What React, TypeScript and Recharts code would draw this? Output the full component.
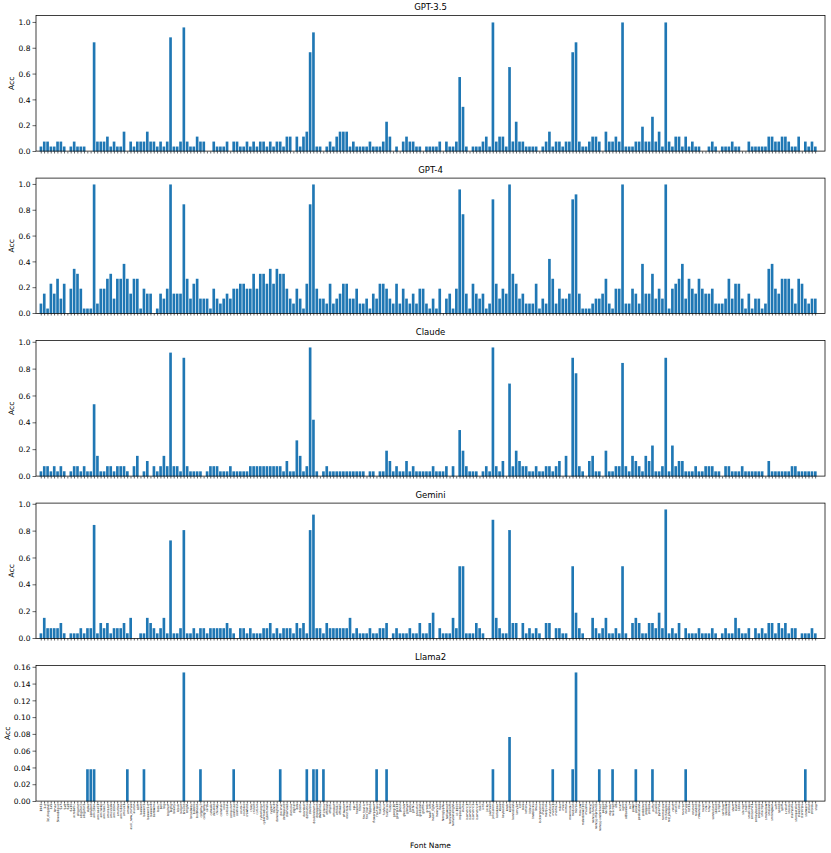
import { BarChart, Bar, XAxis, YAxis } from "recharts";

// font names along the shared x axis (only printed under the last panel)
const fontNames = [
  "1943", "3-d", "3d_diagonal", "3x5", "4max", "5lineoblique", "5x7", "5x8", "6x9", "6x10",
  "acrobatic", "alligator", "alligator2", "alligator3", "alpha", "alphabet", "amc3line", "amcaaa01", "amcneko", "amcrazo2",
  "amcrazor", "amcslash", "amcslder", "amcthin", "amctubes", "amcun1", "arrows", "ascii_new_roman", "avatar", "b1ff",
  "banner", "banner3", "banner3-d", "banner4", "barbwire", "basic", "bell", "big", "bigchief", "bigfig",
  "binary", "block", "bolger", "braced", "bright", "broadway", "bubble", "bulbhead", "calgphy2", "caligraphy",
  "cards", "catwalk", "chiseled", "chunky", "coinstak", "cola", "colossal", "computer", "contessa", "contrast",
  "cosmic", "cosmike", "crawford", "crazy", "cricket", "cursive", "cyberlarge", "cybermedium", "cybersmall", "cygnet",
  "danc4", "dancingfont", "decimal", "defleppard", "diamond", "dietcola", "digital", "doh", "doom", "dosrebel",
  "dotmatrix", "double", "doubleshorts", "drpepper", "dwhistled", "eftichess", "eftifont", "eftipiti", "eftirobot", "eftitalic",
  "eftiwall", "eftiwater", "electronic", "elite", "epic", "fender", "filter", "fire_font-k", "fire_font-s", "flipped",
  "flowerpower", "fourtops", "fraktur", "funface", "funfaces", "fuzzy", "georgi16", "georgia11", "ghost", "ghoulish",
  "glenyn", "goofy", "gothic", "graceful", "gradient", "graffiti", "greek", "heart_left", "heart_right", "henry3d",
  "hex", "hieroglyphs", "hollywood", "horizontalleft", "horizontalright", "icl-1900", "impossible", "invita", "isometric1", "isometric2",
  "isometric3", "isometric4", "italic", "ivrit", "jacky", "jazmine", "jerusalem", "katakana", "kban", "keyboard",
  "knob", "konto", "kontoslant", "larry3d", "lcd", "lean", "letters", "lildevil", "lineblocks", "linux",
  "lockergnome", "madrid", "marquee", "maxfour", "merlin1", "merlin2", "mike", "mini", "mirror", "mnemonic",
  "modular", "morse", "moscow", "mshebrew210", "muzzle", "nancyj", "nancyj-fancy", "nancyj-improved", "nancyj-underlined", "pagga",
  "nscript", "ntgreek", "nvscript", "o8", "octal", "ogre", "oldbanner", "os2", "pawp", "peaks",
  "peaksslant", "pebbles", "pepper", "poison", "puffy", "puzzle", "pyramid", "rammstein", "rectangles", "red_phoenix",
  "relief", "relief2", "rev", "reverse", "roman", "rot13", "rotated", "rounded", "rowancap", "rozzo",
  "runic", "runyc", "santaclara", "sblood", "script", "serifcap", "shadow", "shimrod", "short", "slant",
  "slide", "slscript", "small", "smallcaps", "smisome1", "smkeyboard", "smpoison", "smscript", "smshadow", "smslant",
  "smtengwar", "soft", "speed", "spliff", "s-relief", "stacey", "stampate", "stampatello", "standard", "starstrips",
  "starwars", "stellar", "stforek", "stop",
];

// letters recognised correctly per font (out of 26)
const gpt35 = [
  1, 2, 2, 1, 1, 2, 2, 1, 0, 1,
  2, 1, 1, 1, 0, 0, 22, 2, 2, 2,
  3, 1, 2, 1, 1, 4, 0, 2, 1, 2,
  2, 2, 4, 2, 2, 1, 2, 1, 2, 23,
  1, 1, 2, 25, 2, 1, 1, 3, 2, 2,
  0, 0, 2, 1, 1, 1, 2, 0, 2, 2,
  1, 1, 2, 1, 2, 1, 2, 2, 1, 2,
  1, 2, 2, 1, 3, 3, 0, 3, 1, 3,
  4, 20, 24, 1, 1, 0, 1, 2, 1, 3,
  4, 4, 4, 1, 2, 1, 1, 1, 1, 2,
  1, 1, 1, 2, 6, 3, 0, 1, 0, 2,
  3, 2, 2, 1, 1, 0, 1, 1, 1, 1,
  2, 0, 2, 1, 1, 2, 15, 9, 1, 0,
  1, 1, 1, 2, 3, 1, 26, 2, 3, 3,
  1, 17, 2, 6, 2, 2, 1, 1, 1, 1,
  0, 1, 2, 4, 1, 2, 2, 1, 2, 2,
  20, 22, 2, 1, 1, 2, 3, 3, 2, 0,
  4, 2, 2, 3, 2, 26, 1, 1, 1, 2,
  2, 5, 2, 2, 7, 2, 4, 1, 26, 2,
  1, 3, 3, 1, 3, 1, 2, 1, 1, 0,
  0, 1, 2, 1, 0, 1, 1, 1, 2, 1,
  1, 0, 0, 2, 1, 1, 1, 1, 1, 3,
  3, 2, 2, 3, 3, 2, 1, 1, 3, 0,
  2, 1, 2, 1,
];

const gpt4 = [
  2, 4, 1, 6, 4, 7, 3, 6, 0, 5,
  9, 8, 5, 1, 1, 1, 26, 2, 5, 5,
  7, 8, 3, 7, 7, 10, 7, 4, 7, 7,
  1, 5, 4, 4, 0, 1, 4, 3, 5, 26,
  4, 4, 4, 22, 7, 3, 6, 7, 3, 3,
  3, 1, 5, 3, 2, 3, 4, 3, 5, 5,
  6, 6, 5, 5, 8, 5, 8, 8, 6, 9,
  6, 9, 8, 8, 5, 3, 2, 5, 3, 1,
  6, 22, 26, 5, 3, 3, 2, 6, 2, 3,
  4, 6, 6, 3, 3, 5, 2, 2, 3, 1,
  4, 3, 6, 6, 5, 3, 2, 6, 2, 5,
  3, 2, 4, 2, 5, 5, 2, 1, 3, 1,
  5, 0, 3, 4, 1, 5, 25, 20, 4, 1,
  6, 4, 3, 4, 1, 2, 23, 6, 3, 5,
  4, 26, 8, 6, 3, 4, 2, 2, 2, 6,
  1, 3, 2, 11, 7, 2, 5, 3, 3, 4,
  23, 24, 4, 1, 1, 1, 2, 3, 3, 4,
  7, 2, 1, 5, 5, 26, 2, 2, 5, 4,
  2, 10, 4, 4, 8, 3, 5, 3, 26, 1,
  5, 6, 7, 10, 3, 7, 5, 4, 7, 5,
  4, 4, 5, 2, 2, 2, 3, 7, 3, 6,
  6, 3, 1, 4, 1, 3, 3, 1, 2, 9,
  10, 5, 4, 7, 7, 7, 5, 2, 7, 6,
  3, 2, 3, 3,
];

const claude = [
  1, 2, 2, 1, 2, 1, 2, 1, 0, 1,
  2, 2, 1, 2, 1, 1, 14, 4, 1, 1,
  2, 2, 1, 2, 2, 2, 1, 0, 2, 4,
  0, 1, 3, 0, 2, 1, 2, 4, 2, 24,
  2, 2, 1, 23, 2, 1, 1, 1, 1, 0,
  1, 2, 2, 2, 1, 1, 1, 2, 1, 1,
  1, 1, 1, 2, 2, 2, 2, 2, 2, 2,
  2, 2, 2, 1, 3, 1, 1, 7, 4, 1,
  2, 25, 11, 1, 0, 1, 2, 1, 1, 1,
  1, 1, 1, 1, 1, 1, 1, 1, 0, 1,
  1, 0, 1, 1, 5, 3, 1, 2, 1, 1,
  3, 1, 2, 1, 1, 1, 1, 1, 2, 1,
  1, 1, 2, 0, 2, 0, 9, 5, 2, 1,
  1, 1, 0, 1, 2, 1, 25, 2, 1, 3,
  0, 18, 2, 5, 3, 2, 2, 1, 1, 2,
  1, 1, 2, 2, 1, 2, 3, 0, 4, 0,
  23, 20, 2, 1, 0, 3, 4, 1, 1, 0,
  5, 1, 1, 2, 2, 22, 2, 1, 4, 3,
  2, 1, 4, 3, 6, 1, 1, 2, 23, 1,
  6, 2, 3, 3, 1, 1, 1, 2, 1, 1,
  2, 2, 2, 1, 1, 0, 2, 2, 1, 1,
  1, 2, 1, 1, 1, 1, 1, 1, 0, 3,
  1, 1, 1, 1, 1, 1, 2, 2, 1, 1,
  1, 1, 1, 1,
];

const gemini = [
  1, 4, 2, 2, 2, 2, 3, 1, 0, 1,
  1, 1, 2, 1, 2, 2, 22, 1, 3, 2,
  3, 1, 2, 2, 2, 3, 1, 4, 0, 0,
  1, 1, 4, 3, 2, 1, 2, 4, 1, 19,
  1, 1, 2, 21, 1, 1, 2, 1, 2, 2,
  1, 2, 2, 2, 2, 2, 3, 2, 1, 0,
  2, 2, 1, 2, 1, 1, 1, 2, 2, 3,
  1, 2, 1, 2, 2, 2, 1, 3, 2, 3,
  1, 21, 24, 2, 2, 1, 3, 2, 2, 2,
  2, 2, 2, 4, 1, 2, 1, 1, 1, 2,
  1, 1, 2, 2, 3, 0, 1, 2, 1, 1,
  1, 2, 1, 1, 3, 1, 1, 3, 5, 0,
  2, 1, 1, 1, 4, 2, 14, 14, 1, 1,
  1, 3, 2, 1, 0, 0, 23, 4, 2, 1,
  1, 21, 3, 3, 0, 3, 1, 2, 1, 2,
  1, 0, 3, 3, 0, 2, 2, 1, 1, 0,
  14, 5, 2, 1, 0, 0, 4, 2, 1, 2,
  4, 1, 1, 2, 1, 14, 1, 0, 3, 4,
  3, 1, 1, 3, 3, 2, 5, 2, 25, 1,
  2, 1, 3, 0, 2, 1, 1, 1, 2, 1,
  1, 1, 2, 1, 0, 1, 2, 1, 1, 4,
  2, 1, 1, 2, 0, 2, 1, 2, 1, 3,
  3, 1, 3, 2, 3, 1, 2, 2, 0, 1,
  1, 1, 2, 1,
];

const llama2 = [
  0, 0, 0, 0, 0, 0, 0, 0, 0, 0,
  0, 0, 0, 0, 1, 1, 1, 0, 0, 0,
  0, 0, 0, 0, 0, 0, 1, 0, 0, 0,
  0, 1, 0, 0, 0, 0, 0, 0, 0, 0,
  0, 0, 0, 4, 0, 0, 0, 0, 1, 0,
  0, 0, 0, 0, 0, 0, 0, 0, 1, 0,
  0, 0, 0, 0, 0, 0, 0, 0, 0, 0,
  0, 0, 1, 0, 0, 0, 0, 0, 0, 0,
  1, 0, 1, 1, 0, 1, 0, 0, 0, 0,
  0, 0, 0, 0, 0, 0, 0, 0, 0, 0,
  0, 1, 0, 0, 1, 0, 0, 0, 0, 0,
  0, 0, 0, 0, 0, 0, 0, 0, 0, 0,
  0, 0, 0, 0, 0, 0, 0, 0, 0, 0,
  0, 0, 0, 0, 0, 0, 1, 0, 0, 0,
  0, 2, 0, 0, 0, 0, 0, 0, 0, 0,
  0, 0, 0, 0, 1, 0, 0, 0, 0, 0,
  1, 4, 0, 0, 0, 0, 0, 0, 1, 0,
  0, 0, 1, 0, 0, 0, 0, 0, 0, 1,
  0, 0, 0, 0, 1, 0, 0, 0, 0, 0,
  0, 0, 0, 0, 1, 0, 0, 0, 0, 0,
  0, 0, 0, 0, 0, 0, 0, 0, 0, 0,
  0, 0, 0, 0, 0, 0, 0, 0, 0, 0,
  0, 0, 0, 0, 0, 0, 0, 0, 0, 0,
  1, 0, 0, 0,
];

const LETTERS = 26;

const accTicks = [0, 0.2, 0.4, 0.6, 0.8, 1.0];
const smallAccTicks = [0, 0.02, 0.04, 0.06, 0.08, 0.1, 0.12, 0.14, 0.16];

const models = [
  { title: "GPT-3.5", correct: gpt35, ticks: accTicks, digits: 1 },
  { title: "GPT-4", correct: gpt4, ticks: accTicks, digits: 1 },
  { title: "Claude", correct: claude, ticks: accTicks, digits: 1 },
  { title: "Gemini", correct: gemini, ticks: accTicks, digits: 1 },
  { title: "Llama2", correct: llama2, ticks: smallAccTicks, digits: 2 },
];

// layout (px)
const W = 831;
const H = 853;
const Y_AXIS_W = 36;
const RIGHT = 6;
const TOP_PAD = 6; // room above the plot so the top tick label is not clipped
const PLOT_H = 135.5;
const PANEL_TOP0 = 15.6;
const PANEL_STEP = 162.5;
const FONT = "DejaVu Sans";
const BLUE = "#1f77b4";

function FontTick(props: any) {
  const { x, y, payload } = props;
  return (
    <text
      transform={`translate(${x},${y - 1.6}) rotate(-90)`}
      textAnchor="end"
      dominantBaseline="central"
      fontSize={3}
      fontFamily={FONT}
      fill="#000"
    >
      {payload.value}
    </text>
  );
}

const NoTick = () => <g />;

function Panel({ model, top, last }: { model: (typeof models)[number]; top: number; last: boolean }) {
  const data = fontNames.map((name, i) => ({ name, acc: model.correct[i] / LETTERS }));
  const maxAcc = Math.max(...data.map((d) => d.acc));
  const xAxisH = last ? 40 : 8;
  return (
    <div style={{ position: "absolute", left: 0, top: top - TOP_PAD, width: W }}>
      <BarChart
        width={W}
        height={TOP_PAD + PLOT_H + xAxisH}
        data={data}
        margin={{ top: TOP_PAD, right: RIGHT, bottom: 0, left: 0 }}
      >
        <XAxis
          dataKey="name"
          interval={0}
          height={xAxisH}
          tickSize={2}
          axisLine={false}
          tickLine={{ stroke: "#000", strokeWidth: 0.6 }}
          padding={{ left: 3.6, right: 7.7 }}
          tick={last ? FontTick : NoTick}
        />
        <YAxis
          type="number"
          domain={[0, maxAcc * 1.05]}
          ticks={model.ticks}
          interval={0}
          width={Y_AXIS_W}
          tickSize={3.5}
          axisLine={false}
          tickLine={{ stroke: "#000", strokeWidth: 0.6 }}
          tick={{ fontSize: 7.5, fill: "#000", fontFamily: FONT }}
          tickFormatter={(v: number) => v.toFixed(model.digits)}
        />
        <Bar dataKey="acc" fill={BLUE} barSize={2.66} isAnimationActive={false} />
      </BarChart>
    </div>
  );
}

export default function App() {
  const plotRight = W - RIGHT;
  const midX = (Y_AXIS_W + plotRight) / 2;
  return (
    <div
      style={{
        position: "absolute",
        left: 0,
        top: 0,
        width: W,
        height: H,
        background: "#fff",
        fontFamily: FONT,
      }}
    >
      {models.map((m, i) => (
        <Panel key={m.title} model={m} top={PANEL_TOP0 + PANEL_STEP * i} last={i === models.length - 1} />
      ))}
      <svg width={W} height={H} style={{ position: "absolute", left: 0, top: 0, pointerEvents: "none" }}>
        {models.map((m, i) => {
          const top = PANEL_TOP0 + PANEL_STEP * i;
          const last = i === models.length - 1;
          return (
            <g key={m.title}>
              <rect
                x={Y_AXIS_W}
                y={top}
                width={plotRight - Y_AXIS_W}
                height={PLOT_H}
                fill="none"
                stroke="#000"
                strokeWidth={0.75}
              />
              <text x={midX} y={top - 5.5} textAnchor="middle" fontSize={8.5} fontFamily={FONT} fill="#000">
                {m.title}
              </text>
              <text
                transform={`translate(${last ? 9.5 : 14},${top + PLOT_H / 2}) rotate(-90)`}
                textAnchor="middle"
                fontSize={7.5}
                fontFamily={FONT}
                fill="#000"
              >
                Acc
              </text>
            </g>
          );
        })}
        <text x={midX} y={848} textAnchor="middle" fontSize={7.5} fontFamily={FONT} fill="#000">
          Font Name
        </text>
      </svg>
    </div>
  );
}
